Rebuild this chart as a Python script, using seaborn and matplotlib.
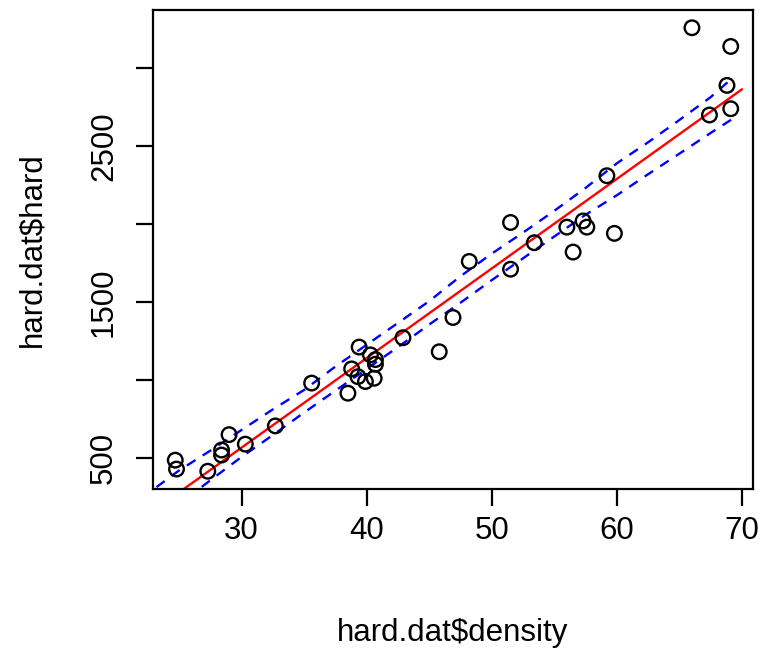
import numpy as np
import pandas as pd
import matplotlib
matplotlib.use("Agg")
import matplotlib.pyplot as plt
import seaborn as sns

# Janka hardness data: wood density vs. hardness
density = [24.7, 24.8, 27.3, 28.4, 28.4, 29.0, 30.3, 32.7, 35.6, 38.5, 38.8, 39.3,
           39.4, 39.9, 40.3, 40.6, 40.7, 40.7, 42.9, 45.8, 46.9, 48.2, 51.5, 51.5,
           53.4, 56.0, 56.5, 57.3, 57.6, 59.2, 59.8, 66.0, 67.4, 68.8, 69.1, 69.1]
hard = [484, 427, 413, 517, 549, 648, 587, 704, 979, 914, 1070, 1020,
        1210, 989, 1160, 1010, 1100, 1130, 1270, 1180, 1400, 1760, 1710, 2010,
        1880, 1980, 1820, 2020, 1980, 2310, 1940, 3260, 2700, 2890, 2740, 3140]

# interval bounds around the fitted line
band_x = [22.0, 25.0, 27.5, 30.0, 32.5, 35.0, 37.5, 40.0, 42.5, 45.0, 47.5,
          50.0, 52.5, 55.0, 57.5, 60.0, 62.5, 65.0, 67.5, 69.2]
band_upper = [240, 418, 545, 678, 810, 935, 1085, 1225, 1365, 1505, 1665,
              1810, 1945, 2085, 2232, 2390, 2525, 2668, 2815, 2935]
band_lower = [30, 200, 355, 505, 645, 790, 930, 1070, 1210, 1355, 1495,
              1640, 1780, 1920, 2060, 2185, 2320, 2452, 2585, 2673]

df = pd.DataFrame({"density": density, "hard": hard})
slope, intercept = np.polyfit(df["density"], df["hard"], 1)
fit_x = np.array([22.0, 70.0])
fit_df = pd.DataFrame({"density": fit_x, "hard": intercept + slope * fit_x})
band_df = pd.DataFrame({"density": band_x, "upper": band_upper, "lower": band_lower})

sns.set_style("ticks")
plt.rcParams["font.family"] = ["Liberation Sans", "DejaVu Sans"]
plt.rcParams["text.color"] = "black"
plt.rcParams["axes.labelcolor"] = "black"

fig = plt.figure(figsize=(7.61, 6.49), dpi=100)
ax = fig.add_axes([153 / 761, 160 / 649, 600 / 761, 479 / 649])

sns.scatterplot(data=df, x="density", y="hard", ax=ax, marker="o", s=110,
                facecolor="none", edgecolor="black", linewidth=1.7, zorder=3)
sns.lineplot(data=fit_df, x="density", y="hard", ax=ax, color="red",
             linewidth=1.7, zorder=2)
for col in ["upper", "lower"]:
    sns.lineplot(data=band_df, x="density", y=col, ax=ax, color="blue",
                 linewidth=1.7, zorder=2).lines[-1].set_dashes([4.3, 3.6])

ax.set_xlim(22.92, 70.88)
ax.set_ylim(299, 3374)
ax.set_xticks([30, 40, 50, 60, 70])
ax.set_yticks([500, 1000, 1500, 2000, 2500, 3000])
ax.set_yticklabels(["500", "", "1500", "", "2500", ""], rotation=90, va="center")

for sp in ax.spines.values():
    sp.set_visible(True)
    sp.set_color("black")
    sp.set_linewidth(1.6)

ax.tick_params(axis="both", direction="out", length=12.5, width=1.6,
               color="black", labelsize=22.5, labelcolor="black")
ax.tick_params(axis="x", pad=7)
ax.tick_params(axis="y", pad=12)

ax.set_xlabel("hard.dat$density", fontsize=22.5, labelpad=52, color="black")
ax.set_ylabel("hard.dat$hard", fontsize=22.5, labelpad=30, color="black")

fig.savefig("out.png", dpi=100, facecolor="white")
